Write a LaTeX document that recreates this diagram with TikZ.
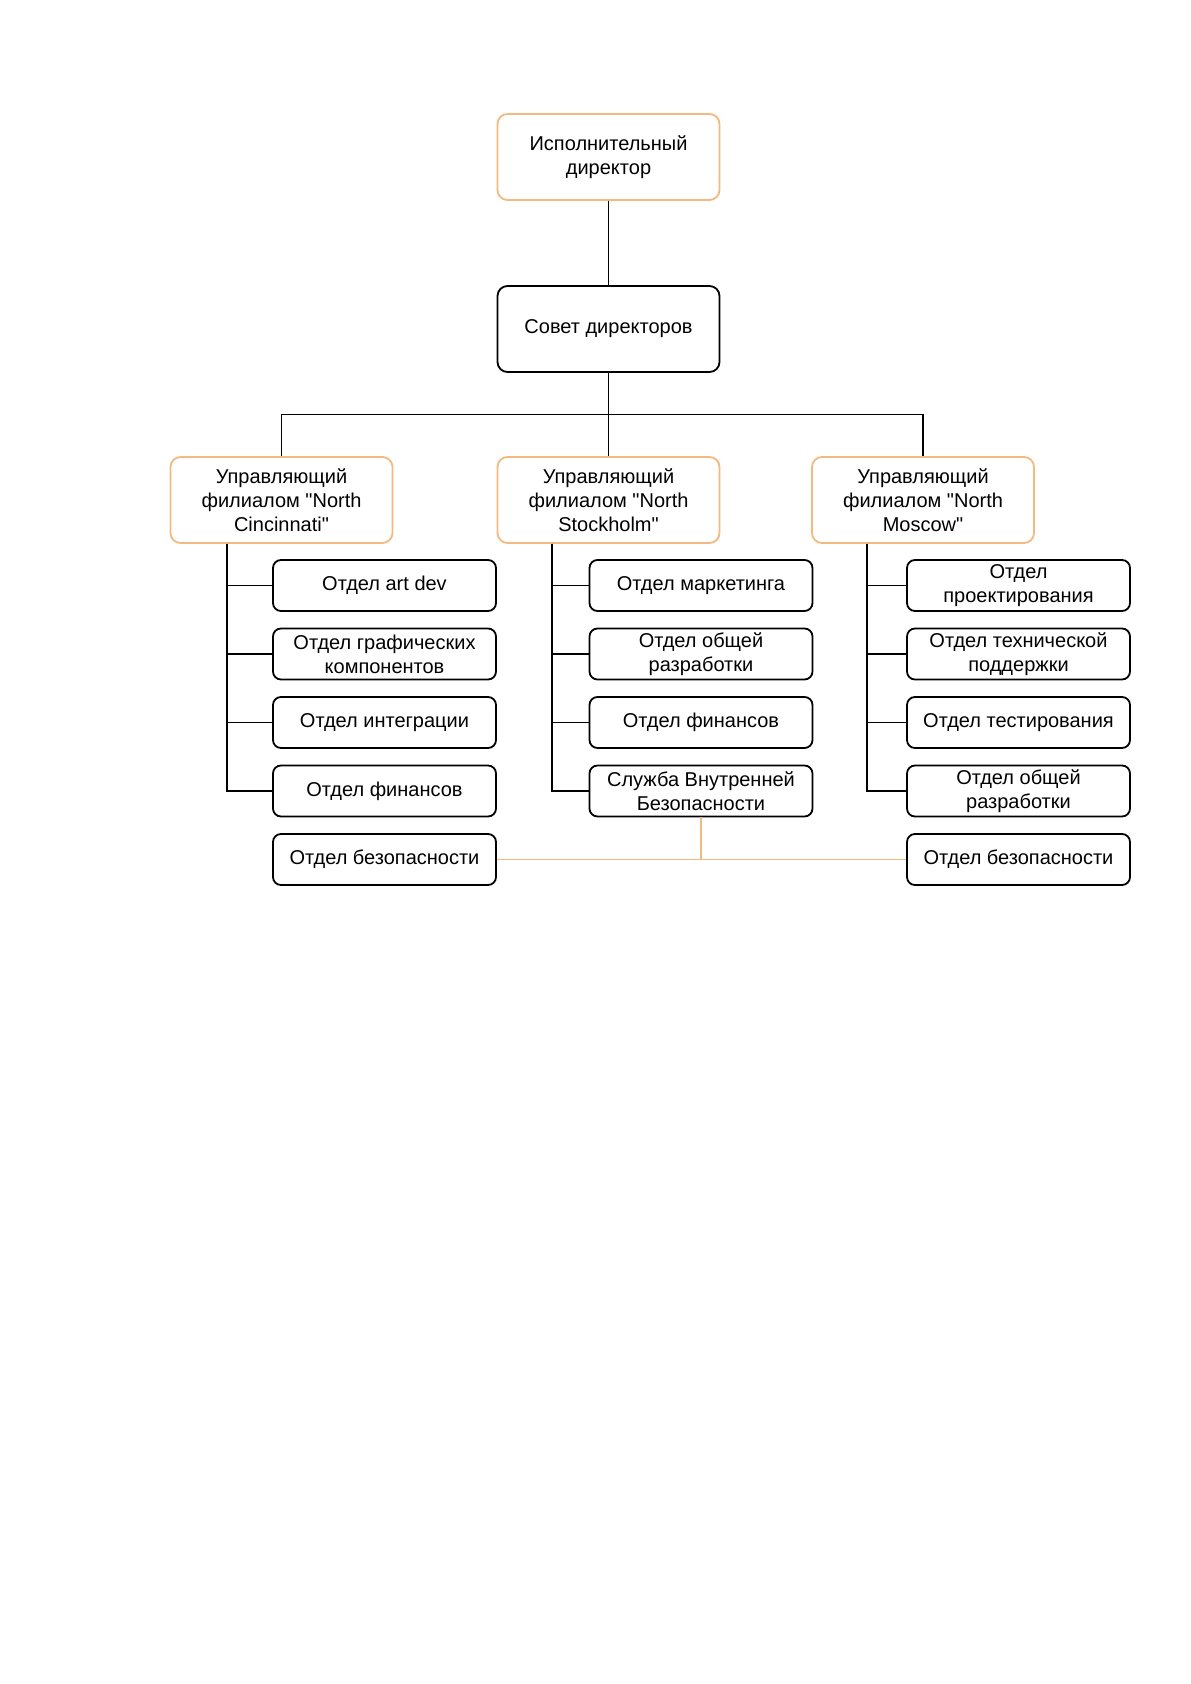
\documentclass[tikz,border=0pt]{standalone}
\usepackage{fontspec}
\setmainfont{Liberation Sans}
\usepackage{tikz}
\usetikzlibrary{positioning}
\usetikzlibrary{calc}
\definecolor{boxorange}{RGB}{242,186,128}
\tikzstyle{chief} = [draw=boxorange, line width=0.9pt, rectangle, rounded corners=5pt, minimum height=43pt, minimum width=111pt, align=center, font=\fontsize{10pt}{12pt}\selectfont]
\tikzstyle{board} = [chief, draw=black]
\tikzstyle{dept} = [draw, line width=0.9pt, rectangle, rounded corners=4pt, minimum height=25.5pt, minimum width=111.5pt, align=center, inner sep=1pt, font=\fontsize{10pt}{12pt}\selectfont]
\tikzstyle{link} = [line width=0.9pt]
\tikzstyle{seclink} = [draw=boxorange, line width=0.7pt]
\newcommand{\qq}{\textquotedbl}

\begin{document}
\begin{tikzpicture}
    \useasboundingbox (0,0) rectangle (595pt,-842pt);

    \node[chief] (ceo) at (304.25pt,-78.5pt) {Исполнительный\\директор};
    \node[board, below of=ceo, node distance=86pt] (council) {Совет директоров};
    \node[chief, below of=council, node distance=85.5pt] (cbr) {Управляющий\\филиалом \qq North\\Stockholm\qq};
    \node[chief, left of=cbr, node distance=163.5pt] (lbr) {Управляющий\\филиалом \qq North\\Cincinnati\qq};
    \node[chief, right of=cbr, node distance=157.25pt] (rbr) {Управляющий\\филиалом \qq North\\Moscow\qq};

    % North Cincinnati
    \node[dept] (lc1) at ($(lbr)+(51.5pt,-42.75pt)$) {Отдел art dev};
    \node[dept, below of=lc1, node distance=34.25pt] (lc2) {Отдел графических\\компонентов};
    \node[dept, below of=lc2, node distance=34.25pt] (lc3) {Отдел интеграции};
    \node[dept, below of=lc3, node distance=34.25pt] (lc4) {Отдел финансов};
    \node[dept, below of=lc4, node distance=34.25pt] (lc5) {Отдел безопасности};

    % North Stockholm
    \node[dept] (cc1) at ($(cbr)+(46.25pt,-42.75pt)$) {Отдел маркетинга};
    \node[dept, below of=cc1, node distance=34.25pt] (cc2) {Отдел общей\\разработки};
    \node[dept, below of=cc2, node distance=34.25pt] (cc3) {Отдел финансов};
    \node[dept, below of=cc3, node distance=34.25pt] (cc4) {Служба Внутренней\\Безопасности};

    % North Moscow
    \node[dept] (rc1) at ($(rbr)+(47.75pt,-42.75pt)$) {Отдел\\проектирования};
    \node[dept, below of=rc1, node distance=34.25pt] (rc2) {Отдел технической\\поддержки};
    \node[dept, below of=rc2, node distance=34.25pt] (rc3) {Отдел тестирования};
    \node[dept, below of=rc3, node distance=34.25pt] (rc4) {Отдел общей\\разработки};
    \node[dept, below of=rc4, node distance=34.25pt] (rc5) {Отдел безопасности};

    \coordinate (bus) at ($(council.south)!0.5!(cbr.north)$);
    \coordinate (ltrunk) at ($(lbr.south west)+(28.5pt,0)$);
    \coordinate (ctrunk) at ($(cbr.south west)+(27.5pt,0)$);
    \coordinate (rtrunk) at ($(rbr.south west)+(28pt,0)$);

    \draw[link] (ceo) -- (council);
    \draw[link] (council) -- (cbr);
    \draw[link] (lbr.north) |- (bus) -| (rbr.north);
    \foreach \i in {1,...,4} {
        \draw[link] (ltrunk) |- (lc\i.west);
        \draw[link] (ctrunk) |- (cc\i.west);
        \draw[link] (rtrunk) |- (rc\i.west);
    }

    \draw[seclink] (lc5.east) -- (rc5.west);
    \draw[seclink] (cc4.south) -- (cc4.south |- lc5.east);
\end{tikzpicture}
\end{document}
